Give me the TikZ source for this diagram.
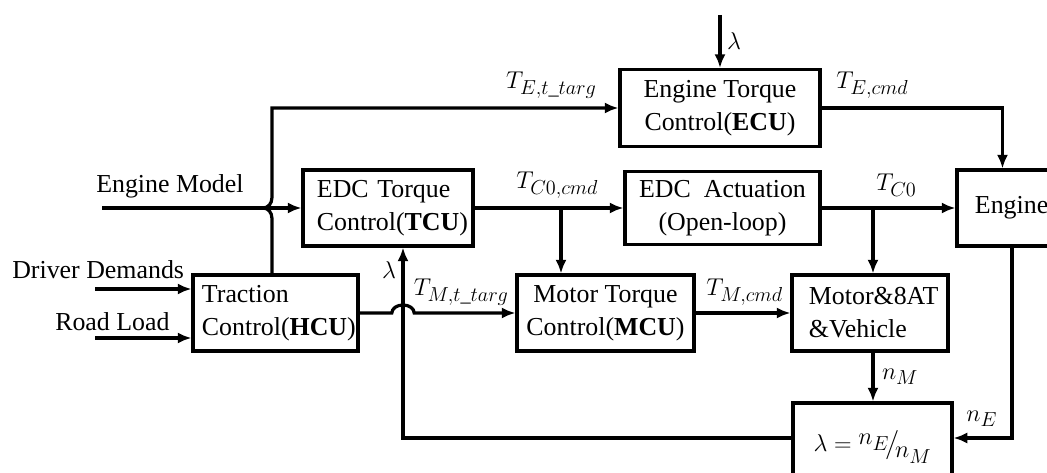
\documentclass[tikz,border=0pt]{standalone}
\usepackage{amsmath}
\usepackage{fontspec}
\setmainfont{Liberation Serif}
\usetikzlibrary{arrows.meta, positioning}
\DeclareMathSizes{17.28}{17.28}{14.4}{12}
\DeclareMathSizes{18.4}{17.28}{14.4}{12}
\newcommand\boxfont{\fontsize{18.4}{23.4}\selectfont}
\newcommand\labfont{\fontsize{17.28}{20}\selectfont}

\begin{document}
\begin{tikzpicture}[x=0.025cm, y=0.025cm,
    box/.style={draw, line width=2.3pt, inner sep=0pt, minimum height=1.9cm,
                font=\boxfont, align=center},
    txt/.style={inner sep=0pt, font=\boxfont},
    lab/.style={inner sep=1pt, font=\labfont},
    link/.style={-{Latex[length=3.4mm,width=2.8mm]}, line width=2.3pt}
  ]
  \useasboundingbox (0,0) rectangle (1047,473);

  % blocks
  \node[box, text width=3.675cm, inner xsep=0.225cm, align=left] (hcu) at (275.5,160)
    {Traction\\Control(\textbf{HCU})};
  \node[box, text width=3.55cm, inner xsep=0.35cm, align=left] (tcu) at (388,265)
    {EDC Torque\\Control(\textbf{TCU})};
  \node[box, minimum width=5cm, minimum height=1.925cm] (ecu) at (720,365)
    {Engine Torque\\Control(\textbf{ECU})};
  \node[box, minimum width=4.875cm, minimum height=1.825cm] (edc) at (722.5,265)
    {EDC~ Actuation\\(Open-loop)};
  \node[box, minimum width=4.425cm] (mcu) at (605.5,160)
    {Motor Torque\\Control(\textbf{MCU})};
  \node[box, text width=3.05cm, inner xsep=0.425cm, align=left] (veh) at (870,160)
    {Motor\&8AT\\\&Vehicle};
  \node[box, text width=2.675cm, inner xsep=0.45cm, align=left] (eng) at (1028.5,265)
    {Engine};
  \node[box, minimum width=3.975cm, minimum height=2.2cm] (lam) at (872.5,26)
    {$\lambda=\raisebox{0.55ex}{$n_E$}\!\big/\!\raisebox{-0.55ex}{$n_M$}$};

  % inputs
  \node[txt, anchor=base west] (emtxt) at (96,280) {Engine Model};
  \node[txt, anchor=base west] (ddtxt) at (12,194) {Driver Demands};
  \node[txt, anchor=base west] (rltxt) at (55,142) {Road Load};
  \coordinate (em) at (102,265);
  \coordinate (dd) at (95,184);
  \coordinate (rl) at (95,135);
  \coordinate (lin) at (ecu.north |- 0,458);

  \draw[link] (em) -- (tcu.west);
  \draw[link] (dd) -- (dd -| hcu.west);
  \draw[link] (rl) -- (rl -| hcu.west);
  \draw[link] (lin) -- (ecu.north) node[midway, right=0.1cm, lab] (ltop) {$\lambda$};

  % HCU -> ECU, jumping over Engine Model
  \coordinate (up) at ([xshift=-0.09cm]hcu.north);
  \draw[link] (up) -- ([yshift=-0.25cm]up |- em) to[out=90,in=0] ([xshift=-0.22cm]up |- em)
    to[out=0,in=-90] ([yshift=0.25cm]up |- em) -- (up |- ecu.west) -- (ecu.west);
  \node[lab, above left=0.2cm and 0.5cm of ecu.west] (tet) {$T_{E,t\_targ}$};
  \draw[link] (ecu.east) -| ([xshift=-0.65cm]eng.north);
  \node[lab, above right=0.2cm and 0.325cm of ecu.east] (tec) {$T_{E,cmd}$};

  % HCU -> MCU, jumping over feedback
  \coordinate (fb) at ([xshift=0.375cm]tcu.south);
  \draw[link] (hcu.east) -- ([xshift=-0.28cm]fb |- hcu.east)
    arc[start angle=180, end angle=0, x radius=0.28cm, y radius=0.2cm] -- (mcu.west);
  \node[lab, above left=0.15cm and 0.125cm of mcu.west] (tmt) {$T_{M,t\_targ}$};

  \draw[link] (tcu.east) -- (edc.west);
  \node[lab, above right=0.2cm and 1cm of tcu.east] (tcc) {$T_{C0,cmd}$};
  \coordinate (sp1) at (561,265);
  \draw[link] (sp1) -- (sp1 |- mcu.north);

  \draw[link] (edc.east) -- (eng.west);
  \node[lab, above right=0.25cm and 1.325cm of edc.east] (tc0) {$T_{C0}$};
  \coordinate (sp2) at (873,265);
  \draw[link] (sp2) -- (sp2 |- veh.north);

  \draw[link] (mcu.east) -- (veh.west);
  \node[lab, above right=0.15cm and 0.225cm of mcu.east] (tmc) {$T_{M,cmd}$};

  % speeds and ratio feedback
  \draw[link] (sp2 |- veh.south) -- (sp2 |- lam.north) node[midway, right=0.15cm, lab] (nm) {$n_M$};
  \draw[link] ([xshift=-0.41cm]eng.south) |- ([yshift=0.225cm]lam.east)
    node[pos=0.76, above=0.2cm, lab] (ne) {$n_E$};
  \draw[link] ([yshift=0.225cm]lam.west) -| (fb) node[pos=0.94, left=0.1cm, lab] (lfb) {$\lambda$};
\end{tikzpicture}
\end{document}
